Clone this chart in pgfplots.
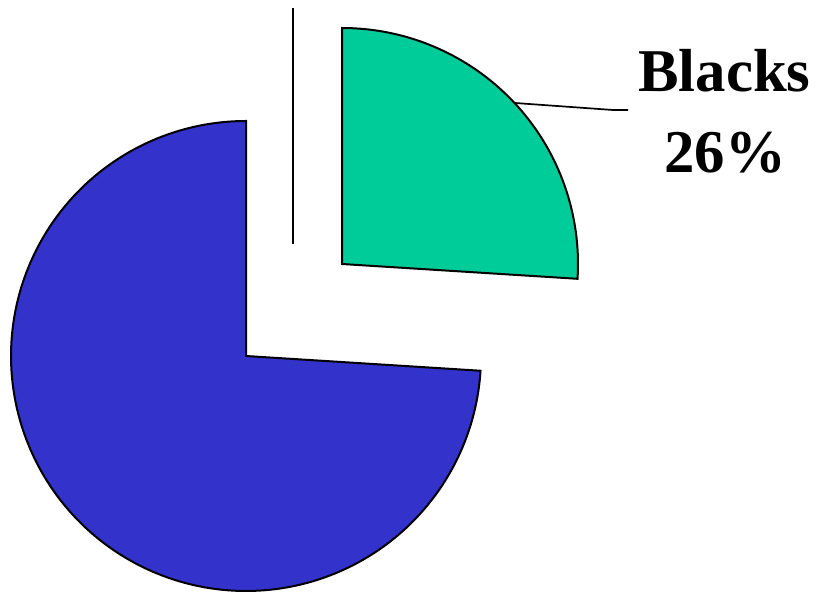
\documentclass[border=0pt]{standalone}
\usepackage{pgfplots}
\pgfplotsset{compat=1.18}
\usepackage{fontspec}
\setmainfont{Liberation Serif}
\definecolor{sliceblue}{HTML}{3333CC}
\definecolor{slicegreen}{HTML}{00CC99}
% shares in percent
\def\blackshare{26}
\def\othershare{74}
\begin{document}
\begin{tikzpicture}
\begin{axis}[
  hide axis,
  scale only axis,
  width=821bp, height=592bp,
  xmin=0, xmax=821, ymin=0, ymax=592,
  clip=false,
  at={(0,0)}, anchor=south west,
]
% other (74%) slice, centre (246,236), radius 235
\addplot[draw=black, line width=2bp, fill=sliceblue, domain=90:{90+3.6*\othershare}, samples=180, variable=\t]
  ({246+235*cos(\t)}, {236+235*sin(\t)}) -- (axis cs:246,236) -- cycle;
% Blacks (26%) slice, exploded, centre (342,328)
\addplot[draw=black, line width=2bp, fill=slicegreen, domain={90-3.6*\blackshare}:90, samples=90, variable=\t]
  ({342+236*cos(\t)}, {328+236*sin(\t)}) -- (axis cs:342,328) -- cycle;
% leader lines
\addplot[black, line width=2.2bp] coordinates {(293,584) (293,348)};
\addplot[black, line width=1.7bp] coordinates {(515,489) (613,482) (628,482)};
\node[anchor=base, inner sep=0pt, font=\fontsize{61}{61}\selectfont\bfseries] at (axis cs:724.5,500) {Blacks};
\node[anchor=base, inner sep=0pt, font=\fontsize{61}{61}\selectfont\bfseries] at (axis cs:725,419) {26\%};
\end{axis}
\pgfresetboundingbox
\path[use as bounding box] (0,0) rectangle (821bp,592bp);
\end{tikzpicture}
\end{document}
